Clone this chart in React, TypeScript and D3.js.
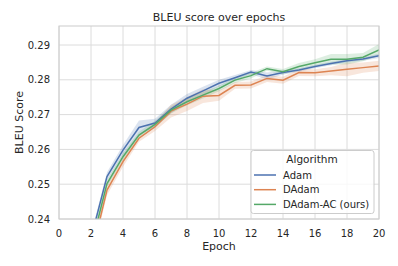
import React from "react";
import * as d3 from "d3";

const epochs = [1, 2, 3, 4, 5, 6, 7, 8, 9, 10, 11, 12, 13, 14, 15, 16, 17, 18, 19, 20];
const adam = [0.214, 0.2345, 0.2522, 0.2598, 0.2663, 0.2676, 0.2716, 0.2747, 0.2768, 0.279, 0.2806, 0.2822, 0.2811, 0.2821, 0.2828, 0.2838, 0.2847, 0.2855, 0.2860, 0.2869];
const adamCi = [0.001, 0.0012, 0.0012, 0.0015, 0.002, 0.0012, 0.0012, 0.0012, 0.0012, 0.001, 0.0008, 0.0006, 0.001, 0.0006, 0.0005, 0.0005, 0.0005, 0.0005, 0.0005, 0.0006];
const dadam = [0.209, 0.2294, 0.2483, 0.2565, 0.2632, 0.2665, 0.2710, 0.2730, 0.2753, 0.2755, 0.2784, 0.2785, 0.2804, 0.2799, 0.2821, 0.2820, 0.2825, 0.2830, 0.2835, 0.2840];
const dadamCi = [0.0015, 0.0015, 0.0015, 0.0015, 0.001, 0.0012, 0.0018, 0.002, 0.002, 0.0015, 0.001, 0.001, 0.001, 0.001, 0.001, 0.001, 0.0012, 0.002, 0.0015, 0.0015];
const dadamAc = [0.211, 0.232, 0.2502, 0.2579, 0.2641, 0.2672, 0.2713, 0.2737, 0.2756, 0.2775, 0.2799, 0.2812, 0.2832, 0.2823, 0.2838, 0.2849, 0.2859, 0.2859, 0.2865, 0.2886];
const dadamAcCi = [0.001, 0.001, 0.001, 0.001, 0.001, 0.001, 0.001, 0.001, 0.001, 0.0008, 0.0008, 0.0008, 0.0006, 0.0008, 0.001, 0.001, 0.0015, 0.0015, 0.0012, 0.0017];

const seriesNames = ["Adam", "DAdam", "DAdam-AC (ours)"];
const seriesColors = ["#4c72b0", "#dd8452", "#55a868"];
const xTicks = [0, 2, 4, 6, 8, 10, 12, 14, 16, 18, 20];
const yTicks = [0.24, 0.25, 0.26, 0.27, 0.28, 0.29];

const W = 398, H = 266;
const L = 59, R = 379, T = 26, B = 219;
const FONT = "DejaVu Sans, sans-serif";

export default function App() {
  const x = d3.scaleLinear().domain([0, 20]).range([L, R]);
  const y = d3.scaleLinear().domain([0.24, 0.29546]).range([B, T]);
  const series = [
    { name: seriesNames[0], vals: adam, ci: adamCi, color: seriesColors[0] },
    { name: seriesNames[1], vals: dadam, ci: dadamCi, color: seriesColors[1] },
    { name: seriesNames[2], vals: dadamAc, ci: dadamAcCi, color: seriesColors[2] },
  ];
  const line = d3.line<number>().x((_, i) => x(epochs[i])).y((d) => y(d));
  const area = (vals: number[], ci: number[]) =>
    d3.area<number>()
      .x((_, i) => x(epochs[i]))
      .y0((d, i) => y(d - ci[i]))
      .y1((d, i) => y(d + ci[i]))(vals) || "";

  return (
    <svg width={W} height={H} style={{ position: "absolute", left: 0, top: 0, background: "#fff" }} fontFamily={FONT}>
      <defs>
        <clipPath id="plot">
          <rect x={L} y={T} width={R - L} height={B - T} />
        </clipPath>
      </defs>
      {xTicks.map((t) => (
        <line key={"gx" + t} x1={x(t)} x2={x(t)} y1={T} y2={B} stroke="#dcdcdc" strokeWidth={1} />
      ))}
      {yTicks.map((t) => (
        <line key={"gy" + t} x1={L} x2={R} y1={y(t)} y2={y(t)} stroke="#dcdcdc" strokeWidth={1} />
      ))}
      <g clipPath="url(#plot)">
        {series.map((s) => (
          <path key={"a" + s.name} d={area(s.vals, s.ci)} fill={s.color} opacity={0.2} />
        ))}
        {series.map((s) => (
          <path key={"l" + s.name} d={line(s.vals) || ""} fill="none" stroke={s.color} strokeWidth={1.5} />
        ))}
      </g>
      <rect x={L} y={T} width={R - L} height={B - T} fill="none" stroke="#cccccc" strokeWidth={1} />
      {xTicks.map((t) => (
        <text key={"tx" + t} x={x(t)} y={237} textAnchor="middle" fontSize={10} fill="#262626">{t}</text>
      ))}
      {yTicks.map((t) => (
        <text key={"ty" + t} x={50} y={y(t) + 3.5} textAnchor="end" fontSize={10} fill="#262626">{t.toFixed(2)}</text>
      ))}
      <text x={(L + R) / 2} y={250} textAnchor="middle" fontSize={11} fill="#262626">Epoch</text>
      <text transform={`translate(23,${(T + B) / 2}) rotate(-90)`} textAnchor="middle" fontSize={11} fill="#262626">BLEU Score</text>
      <text x={(L + R) / 2} y={21} textAnchor="middle" fontSize={11} fill="#262626">BLEU score over epochs</text>
      <g>
        <rect x={251} y={150.5} width={123} height={63} rx={2.5} fill="#fff" fillOpacity={0.8} stroke="#cccccc" strokeWidth={1} />
        <text x={312} y={163} textAnchor="middle" fontSize={10.5} fill="#262626">Algorithm</text>
        {series.map((s, i) => (
          <g key={"lg" + s.name}>
            <line x1={254} x2={276} y1={175 + i * 14.7} y2={175 + i * 14.7} stroke={s.color} strokeWidth={1.5} />
            <text x={283} y={178.5 + i * 14.7} fontSize={10} fill="#262626">{s.name}</text>
          </g>
        ))}
      </g>
    </svg>
  );
}
